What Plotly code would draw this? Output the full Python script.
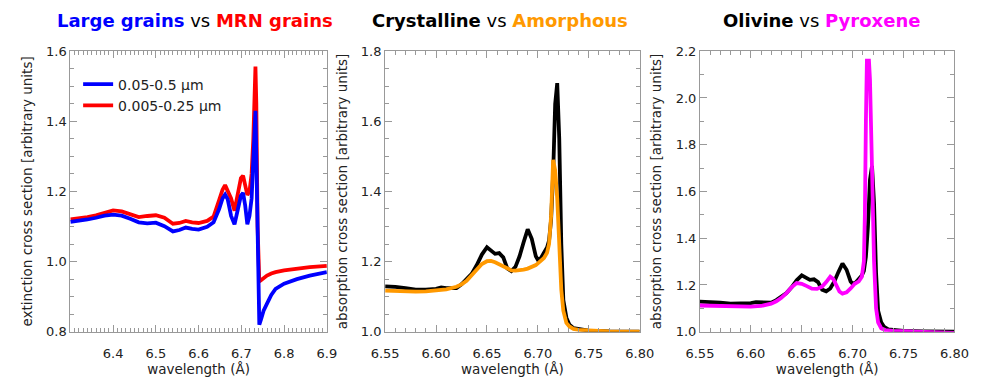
import plotly.graph_objects as go

# ---------------- data ----------------
wl_grain = [6.30, 6.32, 6.34, 6.36, 6.38, 6.40, 6.42, 6.44, 6.46, 6.48, 6.50, 6.52, 6.54, 6.555,
            6.57, 6.585, 6.60, 6.62, 6.635, 6.648, 6.656, 6.662, 6.668, 6.676, 6.684, 6.692,
            6.699, 6.704, 6.709, 6.714, 6.719, 6.724, 6.728, 6.731, 6.733, 6.735, 6.738,
            6.742, 6.746, 6.752, 6.76, 6.77, 6.78, 6.80, 6.83, 6.86, 6.90]
mrn_grains = [1.120, 1.123, 1.127, 1.132, 1.140, 1.146, 1.143, 1.135, 1.127, 1.130, 1.132, 1.125, 1.108, 1.110,
              1.116, 1.112, 1.110, 1.116, 1.128, 1.175, 1.205, 1.218, 1.200, 1.180, 1.145, 1.200,
              1.238, 1.245, 1.215, 1.190, 1.200, 1.250, 1.350, 1.500, 1.556, 1.450, 1.100,
              0.943, 0.947, 0.953, 0.960, 0.966, 0.970, 0.975, 0.980, 0.984, 0.988]
large_grains = [1.113, 1.116, 1.120, 1.125, 1.131, 1.134, 1.131, 1.122, 1.112, 1.109, 1.111, 1.101, 1.086, 1.090,
                1.097, 1.093, 1.091, 1.099, 1.112, 1.150, 1.180, 1.191, 1.178, 1.130, 1.106, 1.150,
                1.188, 1.196, 1.160, 1.106, 1.130, 1.180, 1.280, 1.400, 1.430, 1.300, 1.000,
                0.820, 0.835, 0.860, 0.880, 0.905, 0.922, 0.937, 0.950, 0.960, 0.970]

wl_cryst = [6.55, 6.56, 6.57, 6.58, 6.59, 6.60, 6.605, 6.61, 6.62, 6.625, 6.63, 6.635, 6.64, 6.645,
            6.65, 6.654, 6.658, 6.662, 6.666, 6.67, 6.674, 6.678, 6.682, 6.686, 6.69, 6.694,
            6.698, 6.70, 6.703, 6.706, 6.709, 6.711, 6.713, 6.715, 6.717, 6.719, 6.721, 6.723,
            6.725, 6.728, 6.731, 6.735, 6.74, 6.75, 6.77, 6.80]
crystalline = [1.129, 1.128, 1.124, 1.120, 1.120, 1.122, 1.126, 1.124, 1.124, 1.135, 1.150, 1.165, 1.190, 1.220,
               1.241, 1.232, 1.222, 1.224, 1.212, 1.180, 1.173, 1.185, 1.215, 1.255, 1.292, 1.265,
               1.215, 1.205, 1.210, 1.225, 1.240, 1.260, 1.320, 1.450, 1.650, 1.709, 1.550, 1.250,
               1.090, 1.040, 1.020, 1.010, 1.007, 1.003, 1.001, 1.000]
amorphous = [1.117, 1.116, 1.114, 1.114, 1.115, 1.117, 1.119, 1.121, 1.128, 1.135, 1.145, 1.160, 1.178, 1.193,
             1.201, 1.202, 1.198, 1.192, 1.185, 1.178, 1.175, 1.174, 1.175, 1.177, 1.180, 1.184,
             1.190, 1.195, 1.202, 1.210, 1.225, 1.250, 1.330, 1.490, 1.460, 1.380, 1.250, 1.120,
             1.060, 1.025, 1.015, 1.008, 1.005, 1.003, 1.001, 1.000]

wl_olivine = wl_cryst
olivine = crystalline

wl_pyrox = [6.55, 6.57, 6.59, 6.60, 6.61, 6.62, 6.625, 6.63, 6.635, 6.64, 6.645, 6.65, 6.655, 6.66,
            6.665, 6.67, 6.674, 6.678, 6.681, 6.684, 6.687, 6.69, 6.694, 6.698, 6.702, 6.706,
            6.709, 6.711, 6.712, 6.713, 6.714, 6.716, 6.717, 6.719, 6.721, 6.723, 6.725, 6.728,
            6.732, 6.74, 6.76, 6.80]
pyroxene = [1.112, 1.110, 1.107, 1.107, 1.110, 1.120, 1.130, 1.145, 1.165, 1.190, 1.208, 1.205, 1.195, 1.184,
            1.183, 1.193, 1.212, 1.235, 1.225, 1.195, 1.172, 1.163, 1.168, 1.185, 1.205, 1.215,
            1.235, 1.300, 1.500, 1.900, 2.160, 2.160, 2.080, 1.700, 1.300, 1.100, 1.040, 1.015,
            1.007, 1.003, 1.000, 0.995]

x_ticks_grain = [6.4, 6.5, 6.6, 6.7, 6.8, 6.9]
x_ticks_silicate = [6.55, 6.60, 6.65, 6.70, 6.75, 6.80]

# ---------------- figure ----------------
BLUE, RED, ORANGE, MAGENTA, BLACK = "#0000ff", "#ff0000", "#ff9900", "#ff00ff", "#000000"
FONT = "DejaVu Sans"
LW = 3.8
GRAY = "#999999"
TXT = "#222222"

fig = go.Figure()
fig.add_trace(go.Scatter(x=wl_grain, y=mrn_grains, mode="lines", line=dict(color=RED, width=LW),
                         name="0.005-0.25 μm", legendrank=2, xaxis="x", yaxis="y"))
fig.add_trace(go.Scatter(x=wl_grain, y=large_grains, mode="lines", line=dict(color=BLUE, width=LW),
                         name="0.05-0.5 μm", legendrank=1, xaxis="x", yaxis="y"))
fig.add_trace(go.Scatter(x=wl_cryst, y=crystalline, mode="lines", line=dict(color=BLACK, width=LW),
                         showlegend=False, xaxis="x2", yaxis="y2"))
fig.add_trace(go.Scatter(x=wl_cryst, y=amorphous, mode="lines", line=dict(color=ORANGE, width=LW),
                         showlegend=False, xaxis="x2", yaxis="y2"))
fig.add_trace(go.Scatter(x=wl_olivine, y=olivine, mode="lines", line=dict(color=BLACK, width=LW),
                         showlegend=False, xaxis="x3", yaxis="y3"))
fig.add_trace(go.Scatter(x=wl_pyrox, y=pyroxene, mode="lines", line=dict(color=MAGENTA, width=LW),
                         showlegend=False, xaxis="x3", yaxis="y3"))

W, H = 985, 381
frames = [(58, 322), (382, 644), (706, 968)]
ytop, ybot = 46, 338
ydom = [1 - ybot / H, 1 - ytop / H]

AX = dict(showline=True, linecolor=GRAY, linewidth=1, mirror="allticks",
          ticks="inside", ticklen=7, tickcolor=GRAY, showgrid=False, zeroline=False,
          tickfont=dict(family=FONT, size=13, color=TXT))

xr = [[6.3, 6.9], [6.55, 6.80], [6.55, 6.80]]
xtv = [x_ticks_grain, x_ticks_silicate, x_ticks_silicate]
xminor = [0.01, 0.01, 0.01]
yr = [[0.8, 1.6], [1.0, 1.8], [1.0, 2.2]]
yminor = [0.05, 0.05, 0.1]
xfmt = [".1f", ".2f", ".2f"]
ytitles = ["extinction cross section [arbitrary units]",
           "absorption cross section [arbitrary units]",
           "absorption cross section [arbitrary units]"]

layout = dict(width=W, height=H, margin=dict(l=0, r=0, t=0, b=0),
              paper_bgcolor="white", plot_bgcolor="white",
              font=dict(family=FONT, color=TXT))
for i in range(3):
    s = "" if i == 0 else str(i + 1)
    l, r = frames[i]
    layout["xaxis" + s] = dict(AX, domain=[l / W, r / W], range=xr[i], tickmode="array", tickvals=xtv[i],
                               tickformat=xfmt[i], anchor="y" + s, ticklabelstandoff=10,
                               minor=dict(dtick=xminor[i], tick0=6.3, ticks="inside", ticklen=4, tickcolor=GRAY),
                               title=dict(text="wavelength (Å)", font=dict(family=FONT, size=13.5, color=TXT),
                                          standoff=2))
    layout["yaxis" + s] = dict(AX, domain=ydom, range=yr[i], dtick=0.2, tick0=0, tickformat=".1f",
                               anchor="x" + s,
                               minor=dict(dtick=yminor[i], ticks="inside", ticklen=4, tickcolor=GRAY),
                               title=dict(text=ytitles[i], font=dict(family=FONT, size=13.5, color=TXT),
                                          standoff=10))

layout["legend"] = dict(x=66 / W, y=1 - 64 / H,
                        xanchor="left", yanchor="top", bgcolor="rgba(0,0,0,0)",
                        font=dict(family=FONT, size=14, color=TXT), itemwidth=30,
                        tracegroupgap=0)

titles = [
    f"<b><span style='color:{BLUE}'>Large grains</span></b> vs <b><span style='color:{RED}'>MRN grains</span></b>",
    f"<b>Crystalline</b> vs <b><span style='color:{ORANGE}'>Amorphous</span></b>",
    f"<b>Olivine</b> vs <b><span style='color:{MAGENTA}'>Pyroxene</span></b>",
]
centers = [186, 500, 831]
layout["annotations"] = [dict(text=t, x=c / W, y=1 - 14 / H, xref="paper", yref="paper",
                              xanchor="center", yanchor="middle", showarrow=False,
                              font=dict(family=FONT, size=18, color="#000000"))
                         for t, c in zip(titles, centers)]

fig.update_layout(**layout)
fig.write_html("out.html")
